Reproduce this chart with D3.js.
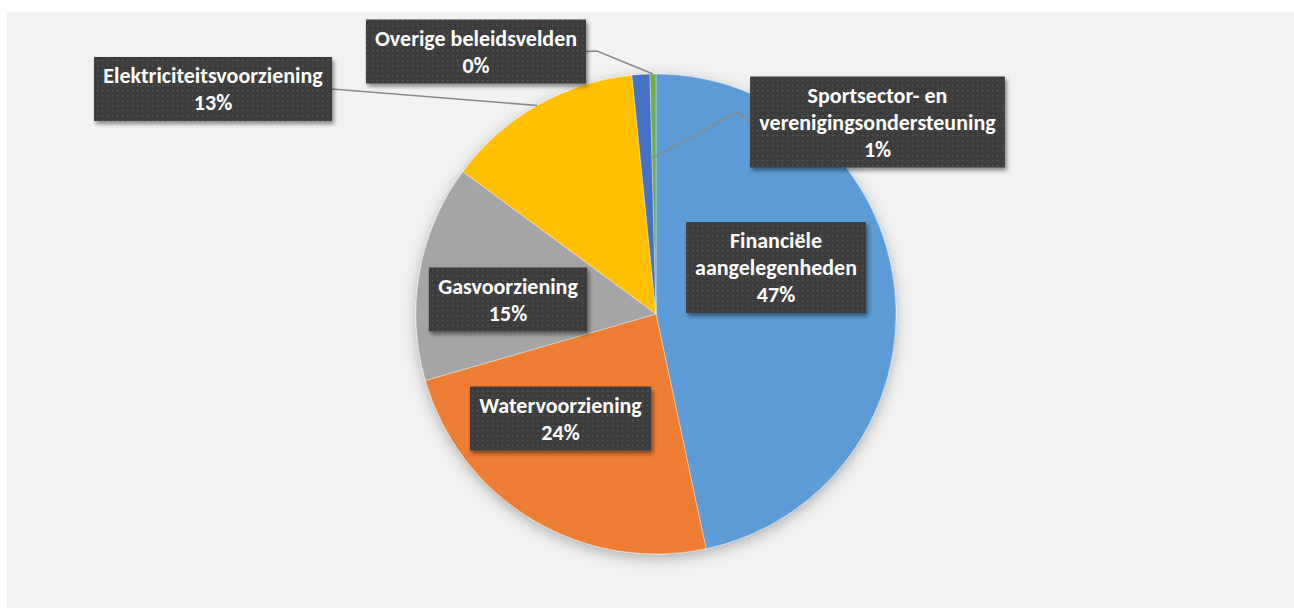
<!DOCTYPE html>
<html>
<head>
<meta charset="utf-8">
<script src="https://cdn.jsdelivr.net/npm/d3@7"></script>
<style>
  html, body { margin: 0; padding: 0; background: #ffffff; }
  svg { display: block; }
</style>
</head>
<body>
<div id="chart"></div>
<script>
// slices, clockwise from 12 o'clock
const categories = ["Financiële aangelegenheden", "Watervoorziening", "Gasvoorziening",
    "Elektriciteitsvoorziening", "Sportsector- en verenigingsondersteuning", "Overige beleidsvelden"];
const values = [46.7, 23.9, 14.6, 13.3, 1.2, 0.4];
const colors = ["#5B9BD5", "#ED7D31", "#A5A5A5", "#FFC000", "#4472C4", "#70AD47"];
// label lines as shown in the boxes
const labelLines = [
    ["Financiële", "aangelegenheden"],
    ["Watervoorziening"],
    ["Gasvoorziening"],
    ["Elektriciteitsvoorziening"],
    ["Sportsector- en", "verenigingsondersteuning"],
    ["Overige beleidsvelden"]
];

function drawChart(divId) {
    const width = 1294, height = 609;
    const cx = 656, cy = 314, radius = 240;

    d3.select("#" + divId).selectAll("*").remove();
    const svg = d3.select("#" + divId).append("svg").attr("width", width).attr("height", height);
    const defs = svg.append("defs");

    const pattern = defs.append("pattern").attr("id", "dots").attr("patternUnits", "userSpaceOnUse").
        attr("width", 5).attr("height", 5);
    pattern.append("rect").attr("width", 5).attr("height", 5).attr("fill", "#3d3d3d");
    pattern.append("rect").attr("x", 1).attr("y", 1).attr("width", 1.4).attr("height", 1.4).attr("fill", "#545454");

    defs.append("filter").attr("id", "pieShadow").attr("x", "-20%").attr("y", "-20%").attr("width", "140%").attr("height", "140%").
        append("feDropShadow").attr("dx", 0).attr("dy", 4).attr("stdDeviation", 7).attr("flood-color", "#000").attr("flood-opacity", 0.28);
    defs.append("filter").attr("id", "boxShadow").attr("x", "-20%").attr("y", "-30%").attr("width", "140%").attr("height", "160%").
        append("feDropShadow").attr("dx", 2).attr("dy", 3).attr("stdDeviation", 2).attr("flood-color", "#000").attr("flood-opacity", 0.45);

    // chart area background
    svg.append("rect").attr("x", 7).attr("y", 12).attr("width", 1287).attr("height", 596).attr("fill", "#f2f2f2");

    const total = d3.sum(values);
    const data = categories.map((c, i) => ({ name: c, value: values[i], color: colors[i], lines: labelLines[i] }));
    const pieData = d3.pie().sort(null).value(d => d.value)(data);
    const arc = d3.arc().innerRadius(0).outerRadius(radius);

    const g = svg.append("g").attr("transform", "translate(" + cx + "," + cy + ")");
    g.append("g").attr("filter", "url(#pieShadow)").
        selectAll("path").data(pieData).join("path").
        attr("d", arc).
        attr("fill", d => d.data.color).
        attr("stroke", "#ffffff").attr("stroke-width", 0.6).attr("stroke-opacity", 0.6);

    const polar = (angle, r) => [Math.sin(angle) * r, -Math.cos(angle) * r];
    const pct = d3.format(".0%");

    // label box centres and leader bends (relative to pie centre)
    const boxCenters = [[120, -46.5], [-95.5, 104.5], [-148, -14.5], [-443, -225], [221.5, -192], [-180, -262.5]];
    const leaders = [
        null, null, null,
        { side: "right", bend: null, anchor: d => polar((d.startAngle + d.endAngle) / 2, radius) },
        { side: "left", bend: [82, -202], anchor: d => polar(d.endAngle, radius * 0.65) },
        { side: "right", bend: [-59, -263], anchor: d => polar((d.startAngle + d.endAngle) / 2, radius) }
    ];

    const lineH = 27;
    const labels = g.append("g");
    pieData.forEach((d, i) => {
        const lines = d.data.lines.concat([pct(d.data.value / total)]);
        const [bx, by] = boxCenters[i];
        const lg = labels.append("g");
        const txt = lg.append("text").attr("fill", "#ffffff").
            attr("font-family", "Carlito, Lato, 'Open Sans', sans-serif").
            attr("font-weight", "bold").attr("font-size", 22).attr("text-anchor", "middle");
        const boxH = lines.length * lineH + 10;
        const top = by - boxH / 2;
        lines.forEach((t, k) => {
            txt.append("tspan").attr("x", bx).attr("y", top + 26 + k * lineH).text(t);
        });
        const tw = txt.node().getBBox().width;
        const boxW = tw + 18;
        lg.insert("rect", "text").attr("x", bx - boxW / 2).attr("y", top).
            attr("width", boxW).attr("height", boxH).attr("fill", "url(#dots)").attr("filter", "url(#boxShadow)");

        const ld = leaders[i];
        if(ld) {
            const start = ld.side === "right" ? [bx + boxW / 2, by] : [bx - boxW / 2, by];
            const pts = [start];
            if(ld.bend) pts.push(ld.bend);
            pts.push(ld.anchor(d));
            g.insert("path", "g:last-child").attr("d", d3.line()(pts)).
                attr("fill", "none").attr("stroke", "#8a8a8a").attr("stroke-width", 1.5);
        }
    });
}

drawChart("chart");
</script>
</body>
</html>
